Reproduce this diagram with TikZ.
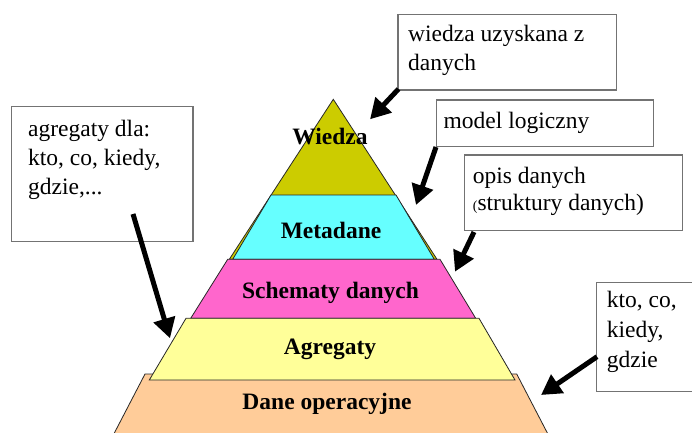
\documentclass[tikz,border=0pt]{standalone}
\usepackage{fontspec}
\setmainfont{Liberation Serif}
\usetikzlibrary{arrows.meta}
\begin{document}
\begin{tikzpicture}[x=1pt,y=-1pt,
  box/.style={draw=black!55, line width=1.2pt, fill=white, inner sep=0pt, anchor=north west},
  txt/.style={align=left, anchor=base west, inner sep=0pt, font=\fontsize{23.5}{28.5}\selectfont},
  lbl/.style={anchor=base, inner sep=0pt, font=\fontsize{23.5}{28}\selectfont\bfseries},
  layer/.style={draw=black!85, line width=0.8pt},
  arr/.style={line width=5pt, -{Triangle[length=20pt,width=21.5pt]}}]
\useasboundingbox (0,0) rectangle (692,432);
\begin{scope}
\clip (0,0) rectangle (692,432);
% pyramid layers
\path[layer, fill={rgb,255:red,204;green,204;blue,0}] (333.3,99.3) -- (229.3,259.3) -- (437,259.3) -- cycle;
\path[layer, fill={rgb,255:red,102;green,255;blue,255}] (271,195) -- (396,195) -- (434.3,259.3) -- (232.7,259.3) -- cycle;
\path[layer, fill={rgb,255:red,255;green,102;blue,204}] (227.7,259.3) -- (440,259.3) -- (475.7,318.3) -- (190.7,318.3) -- cycle;
\path[layer, fill={rgb,255:red,255;green,204;blue,153}] (145,374) -- (516.7,374) -- (551,440) -- (110.7,440) -- cycle;
\path[layer, fill={rgb,255:red,255;green,255;blue,153}] (186,318.3) -- (479,318.3) -- (515,380) -- (149.3,380) -- cycle;
% labels
\node[lbl] (lw) at (330,144.5) {Wiedza};
\node[lbl] (lm) at (331,238.5) {Metadane};
\node[lbl] (ls) at (330.5,298.5) {Schematy danych};
\node[lbl] (la) at (330,354) {Agregaty};
\node[lbl] (ld) at (327,409.5) {Dane operacyjne};
% boxes
\node[box, minimum width=218.7pt, minimum height=75.3pt] (b1) at (397.3,14) {};
\node[box, minimum width=217pt, minimum height=46.4pt] (b2) at (435.7,99.3) {};
\node[box, minimum width=217.7pt, minimum height=75.7pt] (b3) at (464,154.3) {};
\node[box, minimum width=181.3pt, minimum height=134.7pt] (b4) at (11,106) {};
\node[box, minimum width=120pt, minimum height=109pt] (b5) at (596,281.7) {};
\node[txt] (t1) at (408,70) {wiedza uzyskana z\\danych};
\node[txt] (t2) at (443.5,128) {model logiczny};
\node[txt, font=\fontsize{23.5}{27.5}\selectfont] (t3) at (472.7,210.8) {opis danych\\{\fontsize{14}{14}\selectfont(}struktury danych)};
\node[txt, font=\fontsize{23.5}{28.7}\selectfont] (t4) at (28,194.1) {agregaty dla:\\kto, co, kiedy,\\gdzie,...};
\node[txt, font=\fontsize{23.5}{30}\selectfont] (t5) at (606.7,367.7) {kto, co,\\kiedy,\\gdzie};
% arrows
\coordinate (a1s) at (398.5,89);
\coordinate (a1e) at (370,119.3);
\coordinate (a2s) at (436,147);
\coordinate (a2e) at (416,205);
\coordinate (a3s) at (474,232);
\coordinate (a3e) at (455,271.7);
\coordinate (a4s) at (133,214);
\coordinate (a4e) at (170,338.3);
\coordinate (a5s) at (597,356.7);
\coordinate (a5e) at (541,395);
\draw[arr] (a1s) -- (a1e);
\draw[arr] (a2s) -- (a2e);
\draw[arr] (a3s) -- (a3e);
\draw[arr] (a4s) -- (a4e);
\draw[arr] (a5s) -- (a5e);
\end{scope}
\end{tikzpicture}
\end{document}
